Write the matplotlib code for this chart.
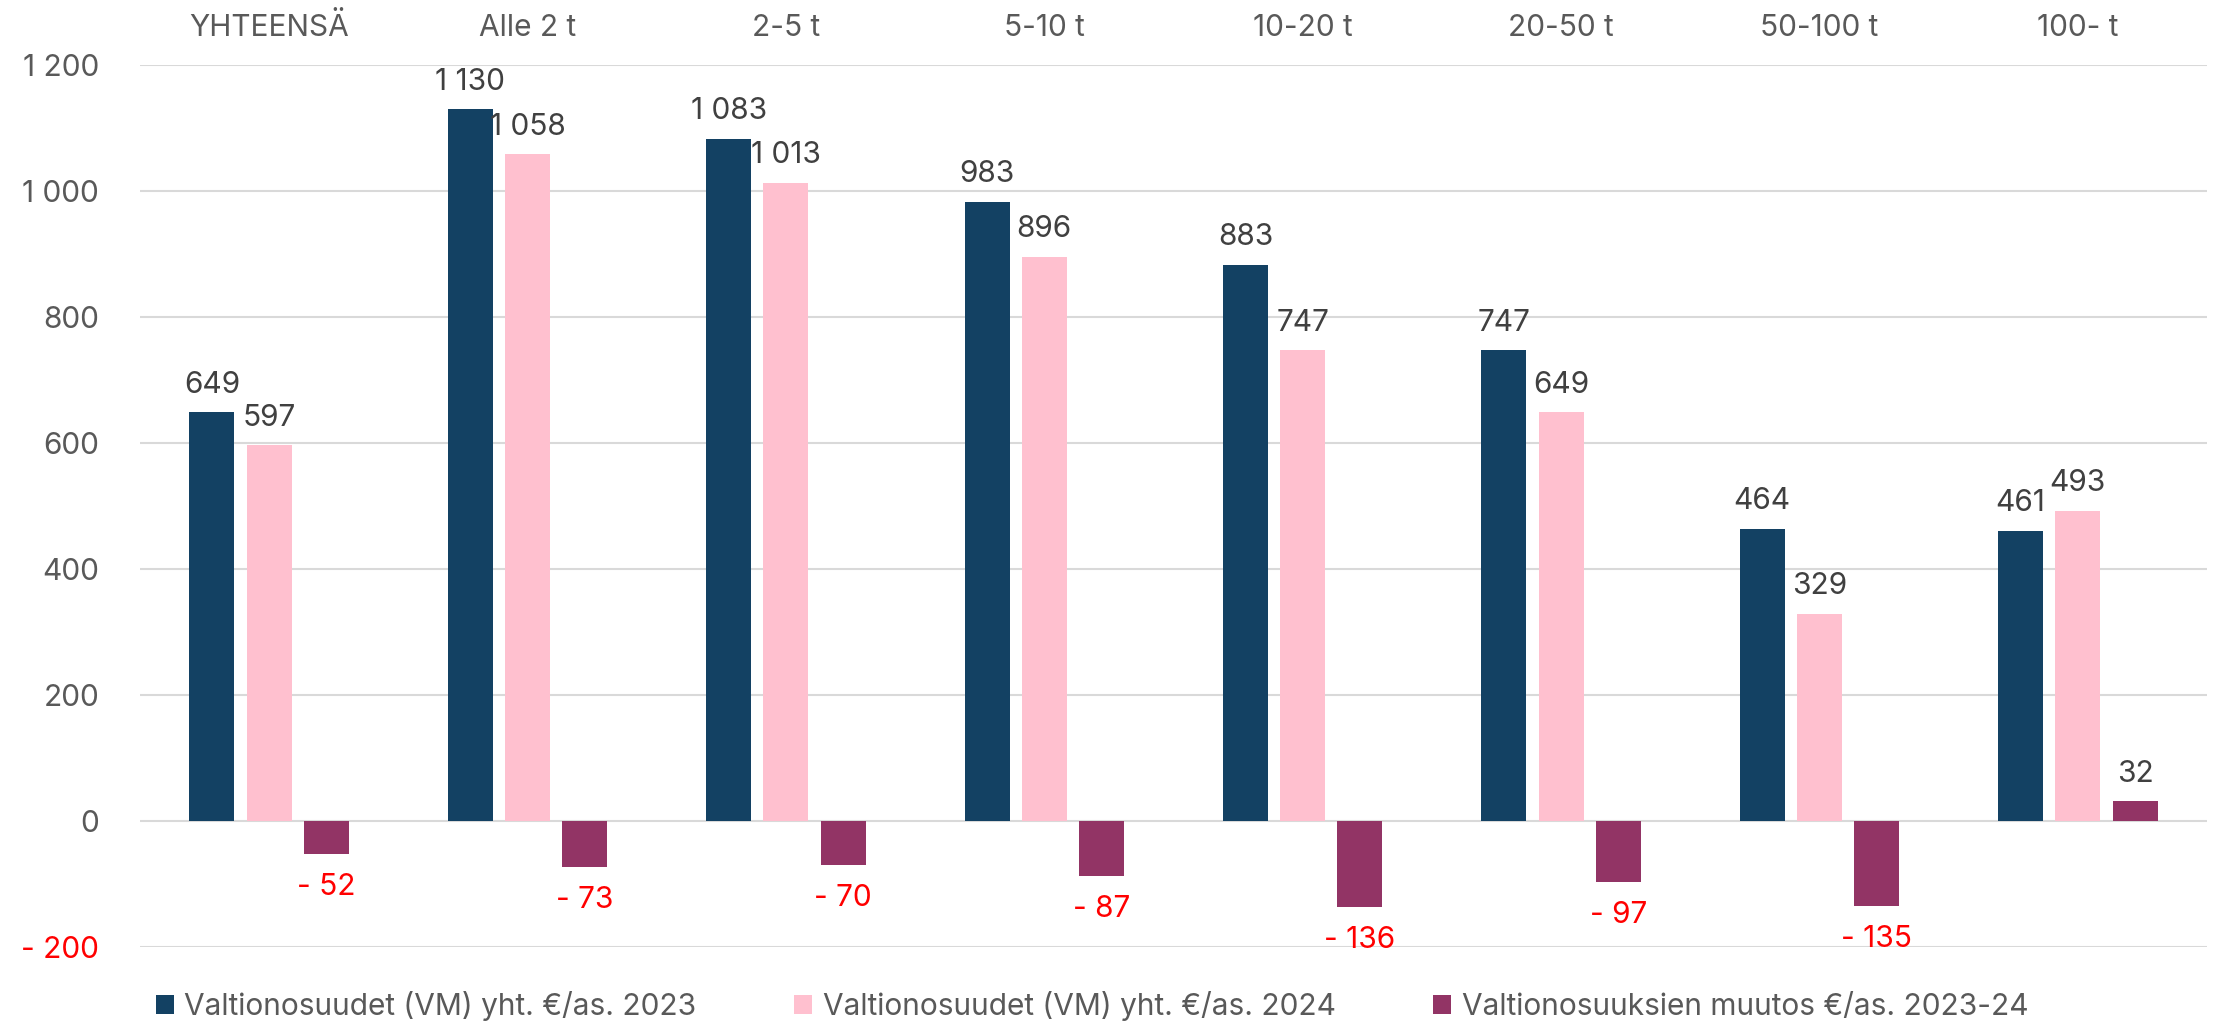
import matplotlib
matplotlib.use("Agg")
import matplotlib.pyplot as plt
from matplotlib.patches import Patch
import numpy as np

# Municipality size classes and state-subsidy figures (€/resident)
categories = ["YHTEENSÄ", "Alle 2 t", "2-5 t", "5-10 t", "10-20 t", "20-50 t", "50-100 t", "100- t"]
vos_2023 = [649, 1130, 1083, 983, 883, 747, 464, 461]
vos_2024 = [597, 1058, 1013, 896, 747, 649, 329, 493]
vos_change = [-52, -73, -70, -87, -136, -97, -135, 32]
series_names = [
    "Valtionosuudet (VM) yht. €/as. 2023",
    "Valtionosuudet (VM) yht. €/as. 2024",
    "Valtionosuuksien muutos €/as. 2023-24",
]
y_ticks = [-200, 0, 200, 400, 600, 800, 1000, 1200]


def fmt(v):
    s = f"{abs(int(round(v))):,}".replace(",", " ")
    return ("- " + s) if v < 0 else s


plt.rcParams["font.family"] = ["Inter", "DejaVu Sans"]
FS = 21.5
GREY = "#595959"
LABEL = "#404040"
RED = "#FF0000"
colors = ["#134163", "#FFC0CF", "#923465"]

W, H = 2216, 1021
fig = plt.figure(figsize=(W / 100, H / 100), dpi=100)
ax = fig.add_axes([140 / W, 1 - 947.3 / H, (2207 - 140) / W, (947.3 - 65) / H])

x = np.arange(len(categories))
bar_w = 0.174
step = 0.2215

handles = []
for k, (vals, col, name) in enumerate(zip([vos_2023, vos_2024, vos_change], colors, series_names)):
    bars = ax.bar(x + (k - 1) * step, vals, width=bar_w, color=col, zorder=2)
    handles.append(Patch(facecolor=col, label=name))
    for b, v in zip(bars, vals):
        xc = b.get_x() + b.get_width() / 2
        if v >= 0:
            ax.annotate(fmt(v), (xc, v), xytext=(0, 14), textcoords="offset points",
                        ha="center", va="baseline", color=LABEL, fontsize=FS, zorder=4)
        else:
            ax.annotate(fmt(v), (xc, v), xytext=(0, -29.5), textcoords="offset points",
                        ha="center", va="baseline", color=RED, fontsize=FS, zorder=4)

ax.set_xlim(-0.5, len(categories) - 0.5)
ax.set_ylim(-200, 1200)

ax.set_yticks(y_ticks, labels=[fmt(t) for t in y_ticks])
for t, lab in zip(y_ticks, ax.get_yticklabels()):
    lab.set_color(RED if t < 0 else GREY)
ax.tick_params(axis="y", length=0, pad=29.5, labelsize=FS)

ax.xaxis.tick_top()
ax.set_xticks(x, labels=categories)
ax.tick_params(axis="x", length=0, pad=21, labelsize=FS, labelcolor=GREY)
for lab in ax.get_xticklabels():
    lab.set_va("baseline")

for s in ax.spines.values():
    s.set_visible(False)
ax.yaxis.grid(True, color="#D9D9D9", linewidth=1.5)
ax.set_axisbelow(True)

fig.legend(handles=handles, loc="lower left", bbox_to_anchor=(156 / W, 0.0), ncol=3,
           frameon=False, fontsize=FS, labelcolor=GREY, handlelength=0.6, handleheight=0.6,
           handletextpad=0.35, columnspacing=3.27, borderpad=0.0, borderaxespad=0.0)

fig.savefig("out.png", dpi=100)
